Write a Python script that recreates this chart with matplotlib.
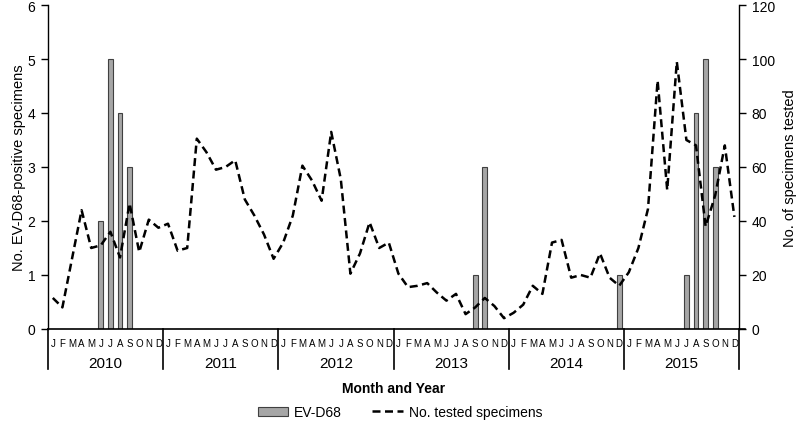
import matplotlib
matplotlib.use("Agg")
import matplotlib.pyplot as plt
import numpy as np

plt.rcParams['font.family'] = ['Liberation Sans', 'DejaVu Sans']

years = ['2010', '2011', '2012', '2013', '2014', '2015']
month_letters = ['J', 'F', 'M', 'A', 'M', 'J', 'J', 'A', 'S', 'O', 'N', 'D']

# EV-D68 positive specimens per month (Jan 2010 .. Dec 2015)
ev_d68 = [0, 0, 0, 0, 0, 2, 5, 4, 3, 0, 0, 0,
          0, 0, 0, 0, 0, 0, 0, 0, 0, 0, 0, 0,
          0, 0, 0, 0, 0, 0, 0, 0, 0, 0, 0, 0,
          0, 0, 0, 0, 0, 0, 0, 0, 1, 3, 0, 0,
          0, 0, 0, 0, 0, 0, 0, 0, 0, 0, 0, 1,
          0, 0, 0, 0, 0, 0, 1, 4, 5, 3, 0, 0]

# No. of tested specimens per month
tested = [11.5, 8, 26, 44, 30, 31, 36, 26.5, 46.5, 28.5, 40.5, 37.5,
          39, 29, 30, 70.5, 65.5, 59, 60, 62.5, 48, 42, 35, 26,
          32, 42, 60.5, 55, 47.5, 73, 55.5, 20.5, 28, 39.5, 30, 32,
          20.5, 15.5, 16, 17, 13.5, 10.5, 13, 5.5, 8, 11.5, 8.5, 4,
          6, 9, 16, 13, 32, 33, 19, 20, 19, 28, 19, 16,
          21, 30, 44.5, 92, 51.5, 99, 70, 68, 38, 49.5, 68, 41.5]

x = np.arange(len(ev_d68))

fig = plt.figure(figsize=(8, 4.35), dpi=100)
ax = fig.add_axes([0.06, 0.2414, 0.864, 0.7448])
ax2 = ax.twinx()
ax.set_zorder(ax2.get_zorder() - 1)
ax2.patch.set_visible(False)

bars = ax.bar(x, ev_d68, width=0.5, color='#a6a6a6', edgecolor='#404040',
              linewidth=0.8, label='EV-D68')
line, = ax2.plot(x, tested, color='black', linewidth=1.8, linestyle=(0, (3.2, 1.8)),
                 label='No. tested specimens')

ax.set_xlim(-0.5, len(ev_d68) - 0.5)
ax.set_ylim(0, 6)
ax2.set_ylim(0, 120)
ax.set_yticks(range(0, 7))
ax2.set_yticks(range(0, 121, 20))

for a in (ax, ax2):
    a.spines['top'].set_visible(False)
    a.tick_params(axis='y', direction='out', length=5, width=1, labelsize=10, pad=4)
ax.spines['bottom'].set_visible(False)
ax2.spines['bottom'].set_visible(False)
ax.spines['left'].set_linewidth(1)
ax2.spines['right'].set_linewidth(1)
ax2.spines['left'].set_visible(False)
ax.spines['right'].set_visible(False)

ax.set_xticks([])
ax2.set_xticks([])

ax.set_ylabel('No. EV-D68-positive specimens', fontsize=10.5, labelpad=1)
ax2.set_ylabel('No. of specimens tested', fontsize=10.5, labelpad=6)

# axis line slightly past right spine
ax2.plot([-0.5, len(ev_d68) - 0.5 + 0.6], [0, 0], color='black', lw=1.2,
         clip_on=False, zorder=5)

# month letters and year labels below the axis
trans = ax.get_xaxis_transform()
for i in x:
    ax.text(i, -0.027, month_letters[i % 12], transform=trans, ha='center',
            va='top', fontsize=7)
for k, yr in enumerate(years):
    ax.text(12 * k + 5.5, -0.083, yr, transform=trans, ha='center', va='top',
            fontsize=11)
for k in range(len(years) + 1):
    ax.plot([12 * k - 0.5] * 2, [0, -0.124], transform=trans, color='black',
            lw=1.2, clip_on=False)

ax.text(0.5, -0.16, 'Month and Year', transform=ax.transAxes, ha='center',
        va='top', fontsize=10, fontweight='bold')

fig.legend(handles=[bars, line], loc='center', bbox_to_anchor=(0.5, 0.05),
           ncol=2, frameon=False, fontsize=10, handlelength=2.2,
           columnspacing=2.2, handletextpad=0.4)

fig.savefig('out.png', dpi=100)
